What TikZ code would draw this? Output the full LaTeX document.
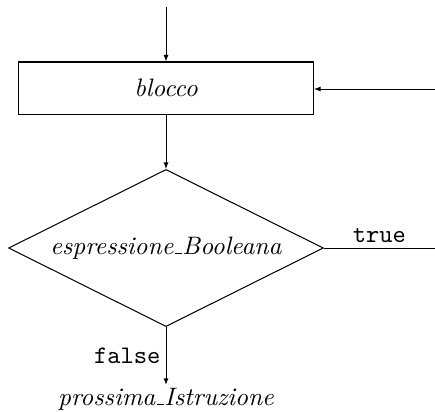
\documentclass[tikz,border=0pt]{standalone}
\usepackage{tikz}
\usetikzlibrary{shapes.geometric,arrows.meta}
% short underscore as in the old text fonts
\newcommand{\lowbar}{\kern.06em\vbox{\hrule width.3em}}
\begin{document}
\begin{tikzpicture}[x=0.396pt, y=-0.396pt, >={Latex[length=2.6pt,width=2pt]},
blockbox/.style={draw, rectangle, minimum width=116.8pt, minimum height=20.6pt, inner sep=0pt, font=\itshape},
testbox/.style={draw, diamond, aspect=2, minimum width=124.7pt, minimum height=62.2pt, inner sep=0pt, font=\itshape},
flow/.style={->, line width=0.4pt},
tag/.style={font=\ttfamily, inner sep=2pt}]
\useasboundingbox (0,0) rectangle (435,411);
\coordinate (start) at (166,7);
\node[blockbox] (blocco) at (166,88) {blocco};
\node[testbox] (expr) at (166,248) {espressione\lowbar Booleana};
\node[font=\itshape, inner sep=1pt] (next) at (166,399) {prossima\lowbar Istruzione};
\coordinate (back) at (435,89);
\coordinate (loop) at (435,248);
\draw[flow] (start) -- (blocco.north);
\draw[flow] (blocco.south) -- (expr.north);
\draw (expr.east) -- node[tag, above] {true} (loop);
\draw[flow] (back) -- (back -| blocco.east);
\draw[flow] (expr.south) -- node[tag, left] {false} (next.north);
\end{tikzpicture}
\end{document}
